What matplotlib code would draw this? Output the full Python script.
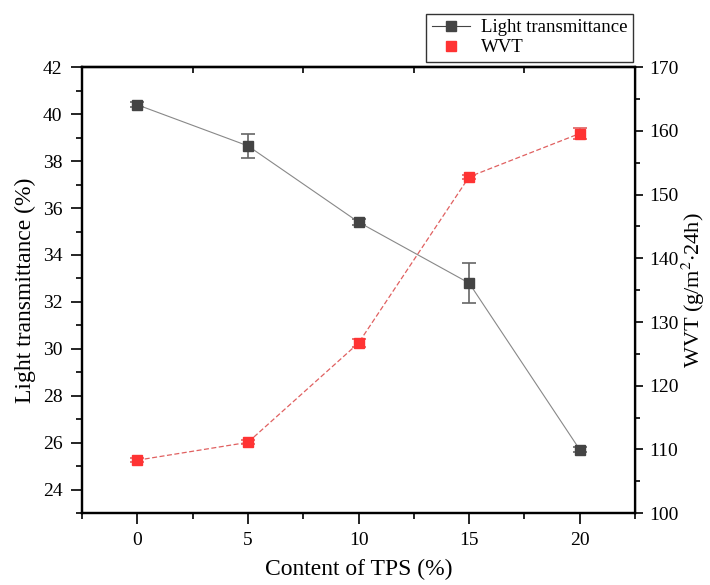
import matplotlib
matplotlib.use("Agg")
from matplotlib import pyplot as plt
from matplotlib.ticker import MultipleLocator, FixedLocator
from matplotlib.lines import Line2D

plt.rcParams['font.family'] = ['Liberation Serif', 'DejaVu Serif']
plt.rcParams['mathtext.fontset'] = 'stix'

# TPS content (%)
tps = [0, 5, 10, 15, 20]

# light transmittance (%) and its error
light = [40.4, 38.65, 35.4, 32.8, 25.7]
light_err = [0.1, 0.5, 0.12, 0.85, 0.1]

# water vapour transmission (g/m2.24h) and its error
wvt = [108.3, 111.1, 126.7, 152.8, 159.6]
wvt_err = [0.3, 0.3, 0.7, 0.3, 0.9]

fig = plt.figure(figsize=(7.1, 5.85), dpi=100)
ax = fig.add_axes([0.1155, 0.123, 0.779, 0.762])
ax2 = ax.twinx()

ax.errorbar(tps, light, yerr=light_err, color='#888888', ecolor='#666666',
            marker='s', markersize=7, mfc='#444444', mec='#444444',
            linewidth=0.8, elinewidth=1.2, capsize=5, capthick=1.2, zorder=3)
ax2.errorbar(tps, wvt, yerr=wvt_err, color='#e06060', ecolor='#e06060',
             marker='s', markersize=7, mfc='#ff3333', mec='#ff3333',
             linewidth=0.9, linestyle=(0, (4, 2)), elinewidth=1.2,
             capsize=5, capthick=1.2, zorder=3)

ax.set_xlim(-2.5, 22.5)
ax.set_ylim(23, 42)
ax2.set_ylim(100, 170)

ax.xaxis.set_major_locator(MultipleLocator(5))
ax.xaxis.set_minor_locator(MultipleLocator(2.5))
ax.yaxis.set_major_locator(MultipleLocator(2))
ax.yaxis.set_minor_locator(MultipleLocator(1))
ax2.yaxis.set_major_locator(MultipleLocator(10))
ax2.yaxis.set_minor_locator(MultipleLocator(5))

ax.tick_params(axis='both', which='major', direction='out', length=8, width=1.2,
               labelsize=14, pad=6)
ax.tick_params(axis='both', which='minor', direction='out', length=4, width=1.2)
ax2.tick_params(axis='y', which='major', direction='out', length=6, width=1.2,
                labelsize=14, pad=4)
ax2.tick_params(axis='y', which='minor', direction='out', length=3.5, width=1.2)

# short inward ticks on the top spine, halfway between the x majors
top = ax.secondary_xaxis('top')
top.xaxis.set_major_locator(FixedLocator([2.5, 7.5, 12.5, 17.5]))
top.tick_params(axis='x', which='major', direction='in', length=4, width=1.2,
                labeltop=False)
top.xaxis.set_minor_locator(FixedLocator([]))
top.spines['top'].set_linewidth(1.6)

for sp in ax.spines.values():
    sp.set_linewidth(1.6)
for sp in ax2.spines.values():
    sp.set_linewidth(1.6)
ax2.spines['right'].set_linewidth(1.0)

ax.set_xlabel('Content of TPS (%)', fontsize=17, labelpad=7)
ax.set_ylabel('Light transmittance (%)', fontsize=17, labelpad=5)
ax2.set_ylabel('WVT (g/m$^{2}$$\\cdot$24h)', fontsize=16, labelpad=1)

handles = [
    Line2D([], [], color='#444444', marker='s', markersize=7, linewidth=0.8),
    Line2D([], [], color='#ff3333', marker='s', markersize=7, linestyle='none'),
]
leg = fig.legend(handles, ['Light transmittance', 'WVT'], loc='lower right',
                 bbox_to_anchor=(0.8915, 0.894), fontsize=13.5, frameon=True,
                 fancybox=False, edgecolor='black', handlelength=2.0,
                 handletextpad=0.6, borderpad=0.3, labelspacing=0.15,
                 borderaxespad=0)
leg.get_frame().set_linewidth(1.0)

fig.savefig('out.png', dpi=100)
